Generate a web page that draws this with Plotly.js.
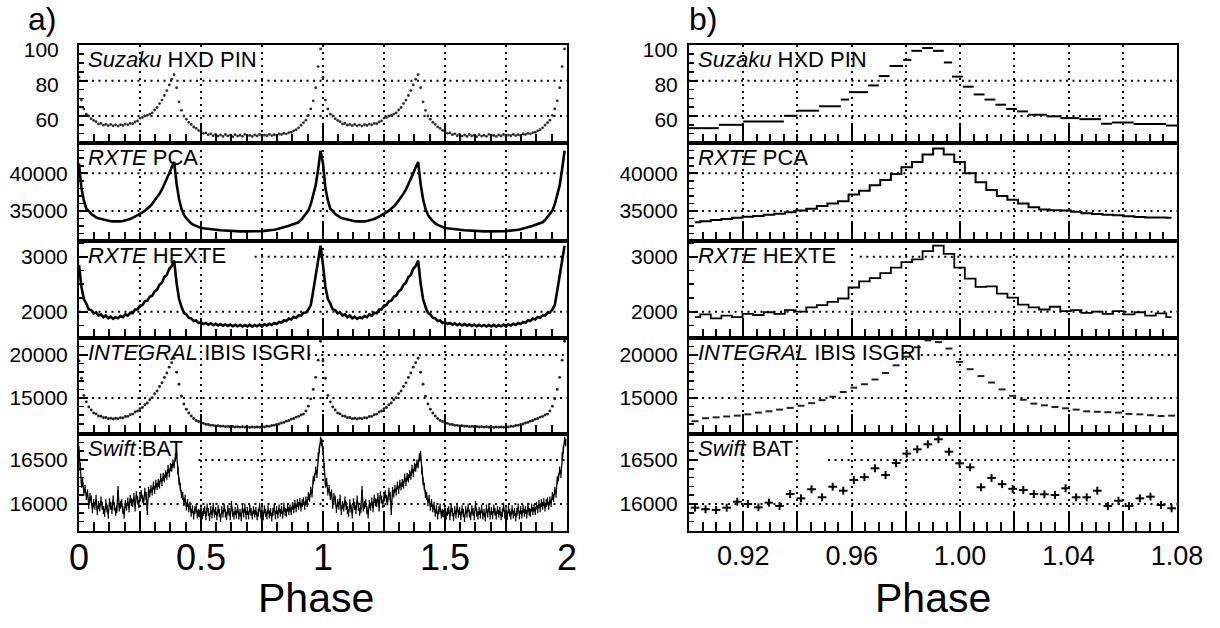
<!DOCTYPE html>
<html><head><meta charset="utf-8">
<script src="https://cdn.plot.ly/plotly-3.0.1.min.js"></script>
<style>html,body{margin:0;padding:0;background:#fff;}#chart{width:1220px;height:628px;}</style>
</head><body><div id="chart"></div>
<script>
// ---------------- DATA ----------------
// Panel a) one pulse cycle (drawn twice, phase 0-2)
const phaseA = [0.00,0.01,0.02,0.03,0.04,0.05,0.06,0.07,0.08,0.09,
0.10,0.11,0.12,0.13,0.14,0.15,0.16,0.17,0.18,0.19,
0.20,0.21,0.22,0.23,0.24,0.25,0.26,0.27,0.28,0.29,
0.30,0.31,0.32,0.33,0.34,0.35,0.36,0.37,0.38,0.39,
0.40,0.41,0.42,0.43,0.44,0.45,0.46,0.47,0.48,0.49,
0.50,0.51,0.52,0.53,0.54,0.55,0.56,0.57,0.58,0.59,
0.60,0.61,0.62,0.63,0.64,0.65,0.66,0.67,0.68,0.69,
0.70,0.71,0.72,0.73,0.74,0.75,0.76,0.77,0.78,0.79,
0.80,0.81,0.82,0.83,0.84,0.85,0.86,0.87,0.88,0.89,
0.90,0.91,0.92,0.93,0.94,0.95,0.96,0.97,0.98,0.99];

const suzakuA = [82.0,69.0,64.0,61.0,60.0,58.5,57.5,56.8,55.5,55.8,
54.8,55.3,54.5,55.2,54.4,55.0,54.3,55.1,54.6,55.4,
55.0,55.8,55.6,56.6,57.2,58.8,59.2,60.0,60.3,61.1,
61.8,63.4,64.8,67.0,69.0,71.6,74.4,77.6,80.8,83.4,
76.0,68.0,63.2,60.0,58.2,56.4,55.2,53.8,53.0,51.8,
51.2,50.2,50.4,49.4,49.9,48.8,49.6,48.6,49.3,48.4,
49.5,48.7,49.2,48.3,49.4,48.6,49.1,48.5,49.6,48.8,
49.0,48.4,49.3,48.7,49.5,48.6,49.2,48.8,49.6,48.9,
49.4,49.0,49.8,49.5,50.2,49.9,50.6,50.8,51.6,52.2,
53.3,54.8,56.2,57.6,60.4,64.0,68.6,76.0,88.0,98.0];

const pcaA = [41300,38000,36400,35300,35000,34600,34400,34150,34050,33950,
33850,33780,33700,33650,33620,33600,33600,33620,33680,33750,
33850,33950,34100,34250,34400,34600,34800,35050,35300,35600,
35950,36350,36800,37300,37850,38500,39200,40000,40800,41500,
38600,36600,35300,34500,34000,33650,33350,33150,33000,32850,
32750,32700,32650,32600,32550,32520,32500,32480,32450,32420,
32400,32380,32360,32350,32330,32320,32300,32300,32290,32290,
32280,32280,32290,32300,32310,32330,32350,32380,32420,32470,
32520,32580,32650,32750,32850,32950,33050,33150,33250,33350,
33500,33800,34200,34600,35050,35900,37000,38400,40500,43000];

const hexteA = [2850,2450,2230,2150,2040,2030,1970,1990,1930,1950,
1900,1930,1880,1910,1870,1900,1880,1920,1900,1950,
1930,1980,1970,2040,2040,2110,2120,2190,2200,2270,
2290,2370,2400,2490,2530,2630,2670,2780,2830,2930,
2520,2230,2090,1980,1950,1890,1880,1830,1840,1795,
1810,1775,1795,1765,1790,1755,1780,1750,1775,1745,
1770,1740,1765,1735,1762,1735,1760,1730,1758,1732,
1760,1728,1758,1735,1765,1738,1770,1748,1780,1760,
1795,1778,1815,1800,1845,1830,1875,1860,1905,1890,
1935,1930,1980,1985,2040,2120,2380,2640,2900,3200];

const integralA = [19300,17300,15300,14550,13950,13600,13250,13150,12900,12880,
12700,12730,12580,12650,12550,12640,12580,12700,12680,12850,
12860,13060,13130,13380,13480,13760,13900,14220,14410,14790,
15040,15490,15810,16340,16760,17390,17910,18590,19110,19620,
18000,16600,15200,14300,13700,13250,12900,12620,12380,12270,
12110,12050,11930,11910,11820,11820,11750,11770,11710,11730,
11670,11700,11650,11680,11630,11660,11610,11650,11590,11630,
11580,11620,11590,11630,11600,11660,11630,11710,11700,11800,
11820,11930,11970,12100,12160,12310,12380,12540,12620,12780,
12860,13020,13130,13500,14050,14900,16000,17400,19400,21600];

const phaseSwiftA = [0.000,0.005,0.010,0.015,0.020,0.025,0.030,0.035,0.040,0.045,
0.050,0.055,0.060,0.065,0.070,0.075,0.080,0.085,0.090,0.095,
0.100,0.105,0.110,0.115,0.120,0.125,0.130,0.135,0.140,0.145,
0.150,0.155,0.160,0.165,0.170,0.175,0.180,0.185,0.190,0.195,
0.200,0.205,0.210,0.215,0.220,0.225,0.230,0.235,0.240,0.245,
0.250,0.255,0.260,0.265,0.270,0.275,0.280,0.285,0.290,0.295,
0.300,0.305,0.310,0.315,0.320,0.325,0.330,0.335,0.340,0.345,
0.350,0.355,0.360,0.365,0.370,0.375,0.380,0.385,0.390,0.395,
0.400,0.405,0.410,0.415,0.420,0.425,0.430,0.435,0.440,0.445,
0.450,0.455,0.460,0.465,0.470,0.475,0.480,0.485,0.490,0.495,
0.500,0.505,0.510,0.515,0.520,0.525,0.530,0.535,0.540,0.545,
0.550,0.555,0.560,0.565,0.570,0.575,0.580,0.585,0.590,0.595,
0.600,0.605,0.610,0.615,0.620,0.625,0.630,0.635,0.640,0.645,
0.650,0.655,0.660,0.665,0.670,0.675,0.680,0.685,0.690,0.695,
0.700,0.705,0.710,0.715,0.720,0.725,0.730,0.735,0.740,0.745,
0.750,0.755,0.760,0.765,0.770,0.775,0.780,0.785,0.790,0.795,
0.800,0.805,0.810,0.815,0.820,0.825,0.830,0.835,0.840,0.845,
0.850,0.855,0.860,0.865,0.870,0.875,0.880,0.885,0.890,0.895,
0.900,0.905,0.910,0.915,0.920,0.925,0.930,0.935,0.940,0.945,
0.950,0.955,0.960,0.965,0.970,0.975,0.980,0.985,0.990,0.995];

const swiftA = [16610,16420,16230,16250,16140,16170,16090,16120,15990,16080,
16050,15940,16010,15980,16060,15920,15990,15960,16040,15980,
15930,15900,16010,15950,15880,16020,15980,15930,16050,15970,
15910,15940,16160,15960,15990,16010,15930,15880,16000,15970,
16030,15950,16060,16020,16010,16080,15960,16100,16050,16000,
16070,16110,16060,16030,16140,16090,15920,16150,16120,16170,
16140,16210,16160,16230,16200,16240,16220,16300,16250,16310,
16290,16340,16320,16400,16350,16420,16410,16460,16450,16530,
16560,16380,16260,16200,16110,16090,16020,16060,15970,16010,
15950,15980,15900,15940,15870,15930,15960,15880,15900,15890,
15950,15870,15910,15930,15860,15960,15910,15850,15930,15880,
15970,15890,15920,15860,15940,15900,15840,15930,15890,15960,
15890,15860,15940,15910,15860,15990,15900,15870,15920,15880,
15950,15870,15900,15850,15950,15890,15960,15870,15920,15870,
15950,15910,15870,15930,15890,15920,15860,15900,15970,15880,
15930,15860,15940,15900,15870,15940,15880,15910,15850,15910,
15960,15870,15930,15880,15950,15900,15930,15880,15970,15910,
15900,15960,15920,15950,15920,15980,15940,16000,15950,16010,
15980,16020,15960,16010,16030,15980,16040,16010,16090,16070,
16150,16120,16270,16300,16380,16340,16540,16620,16720,16700];
const swiftAErr = 45;

// Panel b) zoom on main peak, bins of ~1/256 phase
const phaseB = [0.9022,0.9061,0.9100,0.9139,0.9178,0.9217,0.9256,0.9295,0.9334,0.9373,
0.9413,0.9452,0.9491,0.9530,0.9569,0.9608,0.9647,0.9686,0.9725,0.9764,
0.9803,0.9842,0.9881,0.9920,0.9959,0.9998,1.0037,1.0077,1.0116,1.0155,
1.0194,1.0233,1.0272,1.0311,1.0350,1.0389,1.0428,1.0467,1.0506,1.0545,
1.0584,1.0623,1.0663,1.0702,1.0741,1.0780];

const suzakuBLo = [0.900,0.911,0.920,0.935,0.940,0.948,0.956,0.959,0.966,0.970,
0.974,0.979,0.982,0.986,0.990,0.994,0.997,1.001,1.005,1.009,
1.013,1.017,1.021,1.025,1.032,1.037,1.044,1.052,1.056,1.064,1.076];
const suzakuBHi = [0.911,0.920,0.935,0.940,0.948,0.956,0.959,0.966,0.970,0.974,
0.979,0.982,0.986,0.990,0.994,0.997,1.001,1.005,1.009,1.013,
1.017,1.021,1.025,1.032,1.037,1.044,1.052,1.056,1.064,1.076,1.080];
const suzakuB = [53.1,55.0,56.9,60.1,63.0,65.5,69.3,73.5,77.3,82.6,
88.3,91.8,96.9,98.5,96.9,90.3,82.3,76.6,72.2,69.3,
66.4,64.0,62.6,60.7,59.8,58.8,58.2,55.6,56.3,55.4,54.6];

const pcaB = [33500,33650,33800,33950,34100,34250,34350,34500,34650,34850,
35050,35300,35650,36000,36300,37200,37700,38400,39100,39900,
40800,41500,42500,43300,42500,41500,40000,38800,37800,37000,
36500,36000,35500,35200,35100,35050,34900,34700,34600,34500,
34450,34300,34200,34150,34150,34100];

const hexteB = [1900,1950,1880,1930,1900,1960,1940,1990,1960,2030,
2000,2080,2120,2180,2240,2440,2550,2610,2700,2800,
2900,2950,3100,3200,3050,2800,2600,2450,2460,2330,
2255,2130,2080,2040,2090,2010,2030,1980,2000,1960,
2010,1950,1990,1930,1970,1900];

const integralB = [12300,12650,12750,12850,12950,13100,13300,13450,13650,13850,
14100,14400,14750,15150,15700,16200,16600,17150,17900,18800,
19800,20900,21700,21500,20750,19200,18350,17550,16800,16000,
15250,14800,14350,14150,13950,13800,13650,13450,13400,13350,
13300,13150,13100,13000,12900,12950];

const swiftB = [15958,15940,15932,15958,16026,16000,15962,16015,15977,16113,
16064,16167,16076,16196,16151,16272,16305,16405,16329,16465,
16572,16621,16678,16735,16594,16462,16417,16190,16296,16225,
16172,16159,16113,16110,16102,16178,16076,16076,16151,15977,
16037,15977,16064,16083,15988,15951];
const swiftBErr = 45;
const binHalfB = 0.0016;

// Labels / ticks
const instItalic = ['Suzaku','RXTE','RXTE','INTEGRAL','Swift'];
const instRest = ['HXD PIN','PCA','HEXTE','IBIS ISGRI','BAT'];
const yTicks = [[60,80,100],[35000,40000],[2000,3000],[15000,20000],[16000,16500]];
const yTickText = [['60','80','100'],['35000','40000'],['2000','3000'],['15000','20000'],['16000','16500']];
const xTickValsA = [0,0.25,0.5,0.75,1,1.25,1.5,1.75,2];
const xTickTextA = ['0','','0.5','','1','','1.5','','2'];
const xTickValsB = [0.90,0.92,0.94,0.96,0.98,1.00,1.02,1.04,1.06,1.08];
const xTickTextB = ['','0.92','','0.96','','1.00','','1.04','','1.08'];
const panelLabels = ['a)','b)'];
const xTitle = 'Phase';

// ---------------- LAYOUT ----------------
const FONT = 'Liberation Sans, Arial, Helvetica, sans-serif';
const rowDom = [[0.77229,0.92834],[0.61624,0.77229],[0.46178,0.61624],[0.30892,0.46178],[0.15446,0.30892]];
const colDom = [[0.06475,0.46475],[0.56475,0.96475]];
const yRanges = [[44.7,100.2],[31020,44020],[1522,3285],[10814,21977],[15693,16795]];
const yMinor = [5,1000,250,1000,100];
const gridStart = [[0,0,0.36,0.47,0.245],[0,0,0.35,0.475,0.285]];
const DOT = '2px,4.5px';

function sfx(i){ return i===1 ? '' : String(i); }

const layout = {
  width:1220, height:628, margin:{l:0,r:0,t:0,b:0},
  paper_bgcolor:'#fff', plot_bgcolor:'rgba(0,0,0,0)', showlegend:false,
  font:{family:FONT,color:'#000'},
  shapes:[], annotations:[]
};

for (let c=0;c<2;c++){
  for (let r=0;r<5;r++){
    const idx = c*5+r+1, s = sfx(idx);
    layout['xaxis'+s] = {
      domain:colDom[c], range: c===0?[0,2]:[0.9,1.08], anchor:'y'+s,
      tickmode:'array', tickvals: c===0?xTickValsA:xTickValsB, ticktext: c===0?xTickTextA:xTickTextB,
      ticks:'inside', ticklen:20, tickwidth:2, tickcolor:'#000',
      showticklabels: r===4, tickfont:{family:FONT,size:c===0?36:27,color:'#000'},
      ticklabelstandoff: c===0 ? -6 : 0,
      showgrid:true, gridcolor:'#000', gridwidth:2, griddash:DOT,
      showline:true, linecolor:'#000', linewidth:2, mirror:true, zeroline:false,
      minor:{tickmode:'linear', tick0:c===0?0:0.9, dtick:c===0?0.0625:0.005, ticks:'inside', ticklen:9, tickwidth:2, tickcolor:'#000', showgrid:false},
      fixedrange:true
    };
    layout['yaxis'+s] = {
      domain:rowDom[r], range:yRanges[r], anchor:'x'+s,
      tickmode:'array', tickvals:yTicks[r], ticktext:yTickText[r],
      ticks:'inside', ticklen:9, tickwidth:2, tickcolor:'#000',
      tickfont:{family:FONT,size:21,color:'#000'},
      ticklabelstandoff: (c===0 && r===0) ? 14 : 5,
      ticklabelshift: r===0 ? 4 : 0,
      showgrid:false, showline:true, linecolor:'#000', linewidth:2, mirror:true, zeroline:false,
      minor:{tickmode:'linear', dtick:yMinor[r], ticks:'inside', ticklen:5, tickwidth:1.5, tickcolor:'#000', showgrid:false},
      fixedrange:true
    };
    // horizontal dotted gridlines (interrupted behind the instrument label)
    const rg = yRanges[r], top = Math.max(...yTicks[r]);
    yTicks[r].forEach(v=>{
      if ((rg[1]-v)/(rg[1]-rg[0]) < 0.02) return;
      const x0 = (v===top) ? gridStart[c][r] : 0;
      layout.shapes.push({type:'line', layer:'below', xref:'x'+s+' domain', yref:'y'+s,
        x0:x0, x1:1, y0:v, y1:v, line:{color:'#000', width:2, dash:DOT}});
    });
    layout.annotations.push({xref:'x'+s+' domain', yref:'y'+s+' domain', x:0.014, y:1, xanchor:'left', yanchor:'top',
      text:'<i>'+instItalic[r]+'</i> '+instRest[r], showarrow:false, font:{family:FONT,size:22,color:'#000'}});
  }
}
panelLabels.forEach((t,i)=>{
  layout.annotations.push({xref:'paper', yref:'paper', x: i===0?0.022:0.564, y:1, xanchor:'left', yanchor:'top',
    text:t, showarrow:false, font:{family:FONT,size:32,color:'#000'}, borderpad:0});
  layout.annotations.push({xref:'paper', yref:'paper', x: i===0?0.259:0.7648, y:0.047, xanchor:'center', yanchor:'middle',
    text:xTitle, showarrow:false, font:{family:FONT,size:41,color:'#000'}, borderpad:0});
});

// ---------------- TRACES ----------------
const traces = [];
function twoCycles(ph){ return ph.concat(ph.map(p=>p+1)); }
function ax(idx){ const s=sfx(idx); return {xaxis:'x'+s, yaxis:'y'+s}; }

traces.push(Object.assign({type:'scatter', mode:'markers', x:twoCycles(phaseA), y:suzakuA.concat(suzakuA),
  marker:{size:2.8,color:'#2e2e2e'}}, ax(1)));
traces.push(Object.assign({type:'scatter', mode:'lines', x:twoCycles(phaseA), y:pcaA.concat(pcaA),
  line:{width:2.6,color:'#000'}}, ax(2)));
traces.push(Object.assign({type:'scatter', mode:'lines', x:twoCycles(phaseA), y:hexteA.concat(hexteA),
  line:{width:2.6,color:'#000'}}, ax(3)));
traces.push(Object.assign({type:'scatter', mode:'markers', x:twoCycles(phaseA), y:integralA.concat(integralA),
  marker:{size:2.9,color:'#222'}}, ax(4)));
traces.push(Object.assign({type:'scatter', mode:'lines', x:twoCycles(phaseSwiftA), y:swiftA.concat(swiftA),
  line:{width:1.3,color:'#000'}, error_y:{type:'constant', value:swiftAErr, width:0, thickness:1.3, color:'#000'}}, ax(5)));

const suzCenters = suzakuBLo.map((lo,i)=>(lo+suzakuBHi[i])/2);
const suzHalf = suzakuBLo.map((lo,i)=>(suzakuBHi[i]-lo)/2);
traces.push(Object.assign({type:'scatter', mode:'markers', x:suzCenters, y:suzakuB,
  marker:{size:1,color:'#000'}, error_x:{type:'data', array:suzHalf, width:0, thickness:2, color:'#000'}}, ax(6)));
traces.push(Object.assign({type:'scatter', mode:'lines', x:phaseB, y:pcaB,
  line:{shape:'hvh', width:2, color:'#000'}}, ax(7)));
traces.push(Object.assign({type:'scatter', mode:'lines', x:phaseB, y:hexteB,
  line:{shape:'hvh', width:1.8, color:'#000'}}, ax(8)));
traces.push(Object.assign({type:'scatter', mode:'markers', x:phaseB, y:integralB,
  marker:{size:1,color:'#222'}, error_x:{type:'constant', value:binHalfB*0.8, width:0, thickness:2, color:'#222'}}, ax(9)));
traces.push(Object.assign({type:'scatter', mode:'markers', x:phaseB, y:swiftB,
  marker:{size:1,color:'#000'},
  error_x:{type:'constant', value:binHalfB, width:0, thickness:2, color:'#000'},
  error_y:{type:'constant', value:swiftBErr, width:0, thickness:2, color:'#000'}}, ax(10)));

Plotly.newPlot('chart', traces, layout, {staticPlot:true, displayModeBar:false});
</script></body></html>
